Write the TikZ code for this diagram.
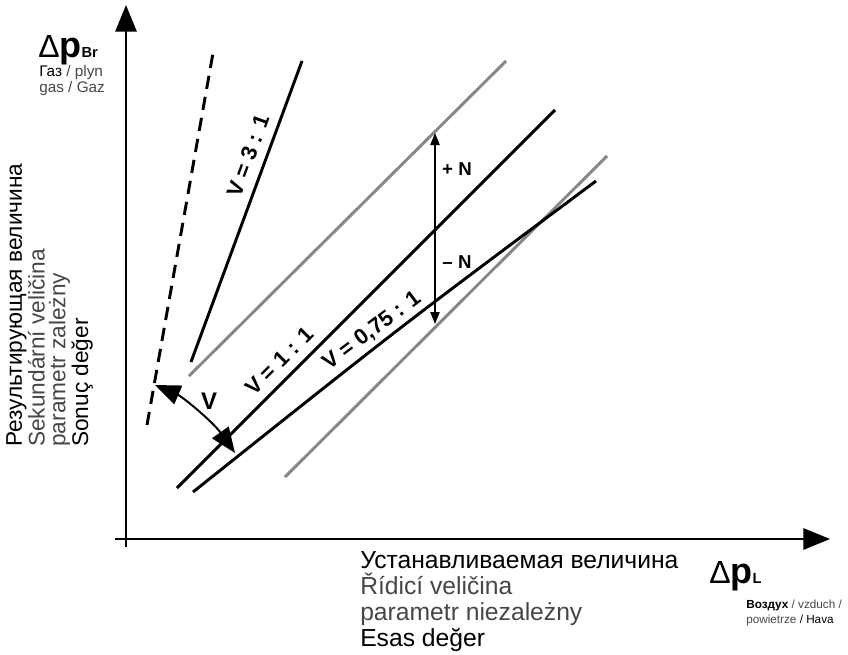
\documentclass[tikz,border=0pt]{standalone}
\usepackage{xcolor}
\usepackage{fontspec}
\setmainfont{Liberation Sans}
\usepackage{tikz}
\usetikzlibrary{arrows.meta}
\definecolor{bandgray}{RGB}{135,135,135}
\definecolor{lighttext}{RGB}{70,70,70}
\tikzset{
  axis/.style={line width=1.5pt, -{Triangle[length=20pt,width=16pt]}},
  ratioline/.style={line width=2.2pt},
  bandline/.style={line width=2.2pt, color=bandgray},
  dashline/.style={line width=2.2pt, dash pattern=on 10pt off 6pt},
  varc/.style={line width=1.5pt, {Triangle[length=19pt,width=15pt]}-{Triangle[length=19pt,width=15pt]}},
  narrow/.style={line width=0.9pt, {Triangle[length=9pt,width=7pt]}-{Triangle[length=9pt,width=7pt]}},
  linelabel/.style={inner sep=0.75pt, font=\bfseries\fontsize{16.5}{17}\selectfont},
}

\begin{document}
\begin{tikzpicture}[x=0.75pt,y=0.75pt,yscale=-1,xscale=1]
        \useasboundingbox (0,0) rectangle (848,654);
        \coordinate (ybot) at (126,547);
        \coordinate (ytip) at (126,5);
        \coordinate (xleft) at (115,539);
        \coordinate (xtip) at (830,539);
        \draw [axis] (ybot) -- (ytip);
        \draw [axis] (xleft) -- (xtip);
        \coordinate (dash0) at (147,425);
        \coordinate (dash1) at (213,53);
        \coordinate (rthree0) at (191,362);
        \coordinate (rthree1) at (302,61);
        \coordinate (bandup0) at (189,376);
        \coordinate (bandup1) at (506,61);
        \coordinate (rone0) at (177,488);
        \coordinate (rone1) at (555,110);
        \coordinate (rquart0) at (193,492);
        \coordinate (rquart1) at (596,181);
        \coordinate (banddn0) at (285,477);
        \coordinate (banddn1) at (607,156);
        \draw [dashline] (dash0) -- (dash1);
        \draw [ratioline] (rthree0) -- (rthree1);
        \draw [bandline] (bandup0) -- (bandup1);
        \draw [bandline] (banddn0) -- (banddn1);
        \draw [ratioline] (rone0) -- (rone1);
        \draw [ratioline] (rquart0) .. controls (400,327) .. (rquart1);
        \coordinate (ntop) at (435,133);
        \coordinate (nbot) at (435,324);
        \draw [narrow] (ntop) -- (nbot);
        \coordinate (vtop) at (155,385);
        \coordinate (vbot) at (235,453);
        \draw [varc] (vtop) .. controls (183,397) and (213,422) .. (vbot);
        \node [linelabel, rotate=70] (lthree) at (248,156) {V = 3 : 1};
        \node [linelabel, rotate=45] (lone) at (279,361) {V = 1 : 1};
        \node [linelabel, rotate=37] (lquart) at (372,331) {V = 0,75 : 1};
        \node [linelabel, font=\bfseries\fontsize{18}{18}\selectfont] (lv) at (209,401) {V};
        \node [linelabel, font=\bfseries\fontsize{14}{14}\selectfont] (lplus) at (457,169) {+ N};
        \node [linelabel, font=\bfseries\fontsize{14}{14}\selectfont] (lminus) at (457,262) {– N};
        \node [anchor=base west, inner sep=0pt] (dpbr) at (38,57) {{\fontsize{24}{24}\selectfont Δ}{\bfseries\fontsize{27}{27}\selectfont p}{\bfseries\fontsize{11}{11}\selectfont Br}};
        \node [anchor=base west, inner sep=0pt, align=left, font=\fontsize{11.5}{11.5}\selectfont] (gas) at (39,92) {Газ {\color{lighttext}/ plyn}\\{\color{lighttext}gas / Gaz}};
        \node [anchor=north west, inner sep=0pt, rotate=90, align=left, font=\fontsize{17}{15.5}\selectfont] (ylab) at (6,447) {Результирующая величина\\{\color{lighttext}Sekundární veličina}\\{\color{lighttext}parametr zależny}\\Sonuç değer};
        \node [anchor=north west, inner sep=0pt, align=left, font=\fontsize{18.5}{19.5}\selectfont] (xlab) at (360,551) {Устанавливаемая величина\\{\color{lighttext}Řídicí veličina}\\{\color{lighttext}parametr niezależny}\\Esas değer};
        \node [anchor=base west, inner sep=0pt] (dpl) at (709,583) {{\fontsize{24}{24}\selectfont Δ}{\bfseries\fontsize{27}{27}\selectfont p}{\bfseries\fontsize{11}{11}\selectfont L}};
        \node [anchor=base west, inner sep=0pt, align=left, font=\fontsize{8.8}{11.25}\selectfont] (air) at (746,623) {\textbf{Воздух} {\color{lighttext}/ vzduch /}\\{\color{lighttext}powietrze} / Hava};
    \end{tikzpicture}
\end{document}
